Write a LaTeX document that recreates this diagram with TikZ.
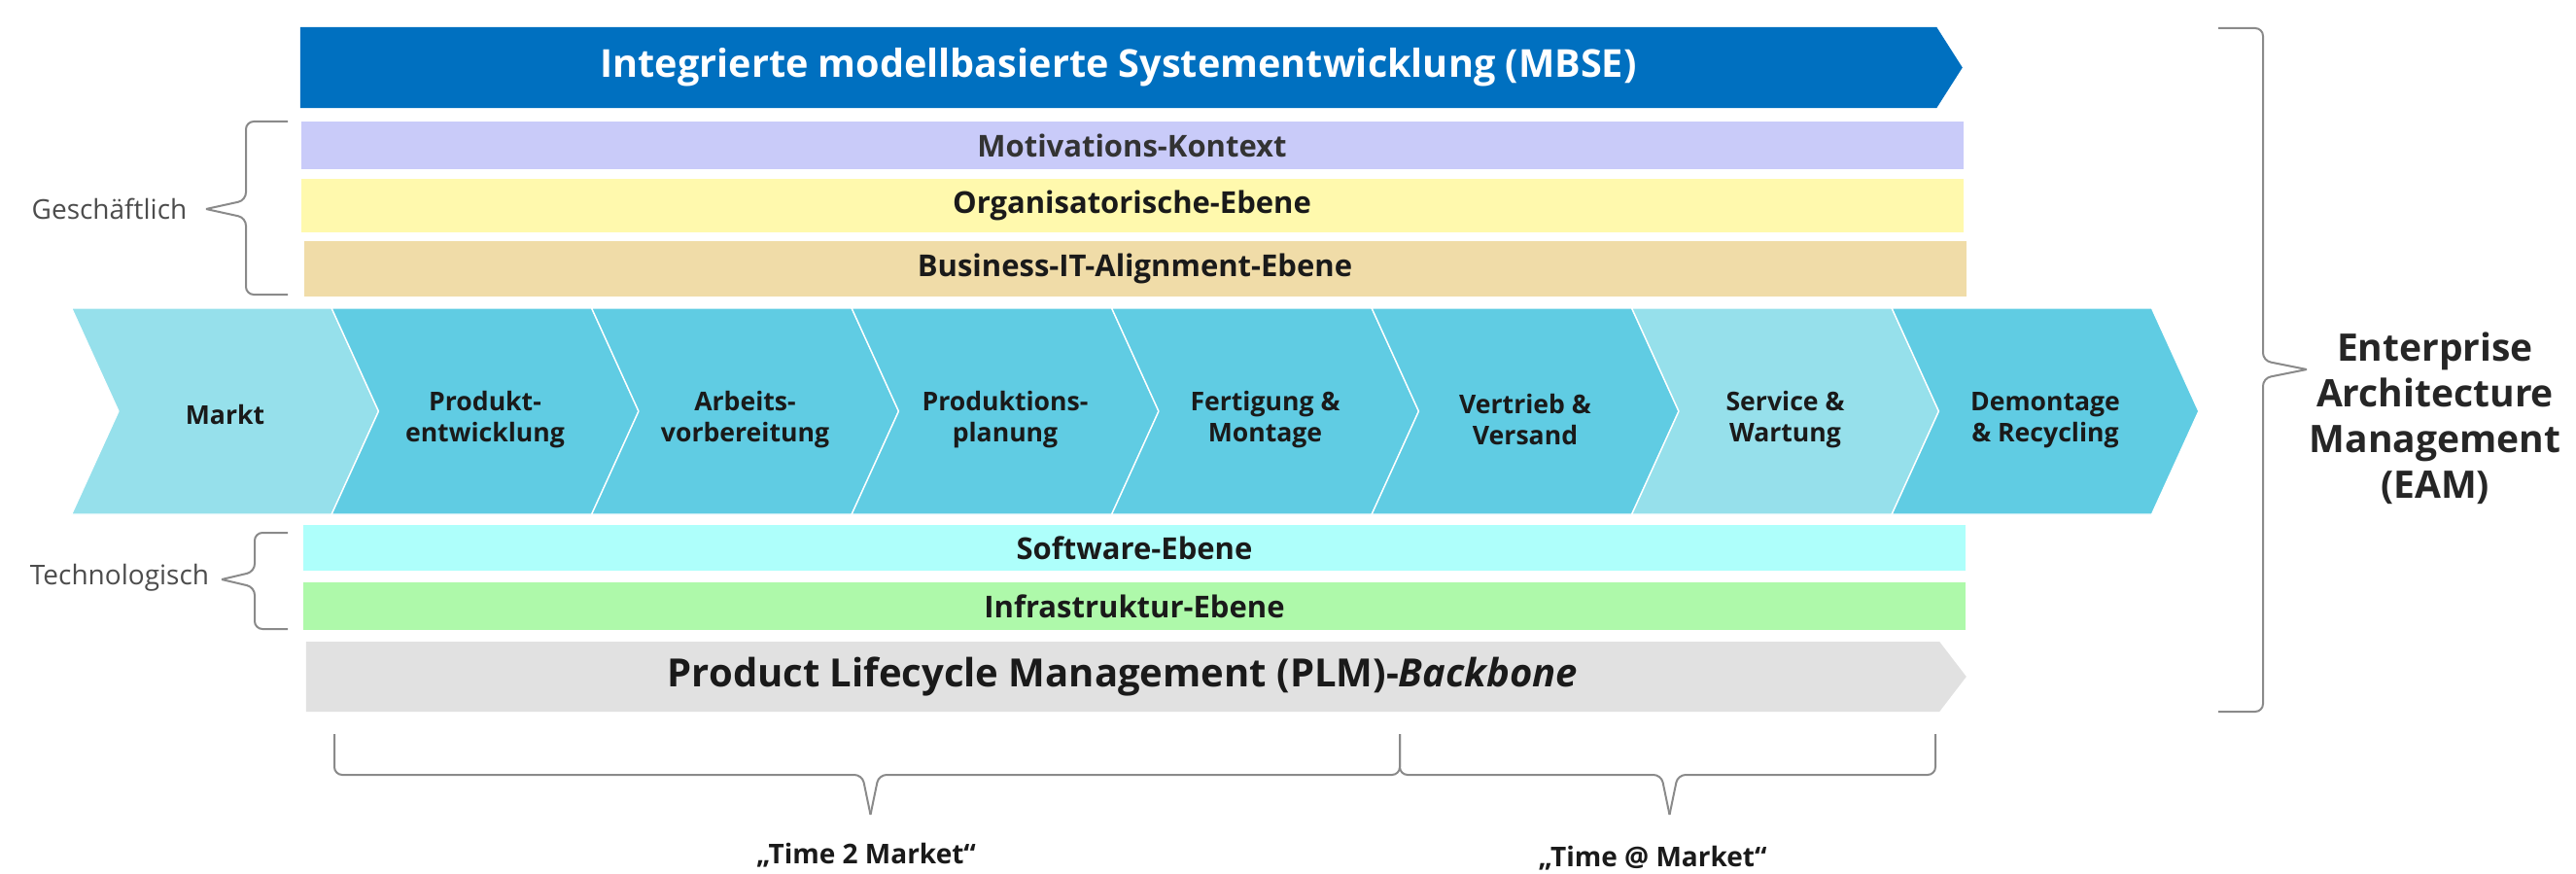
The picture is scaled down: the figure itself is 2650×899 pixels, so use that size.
\documentclass[tikz,border=0pt]{standalone}
\usepackage{fontspec}
\setmainfont{Open Sans}
\usepackage{tikz}
\usetikzlibrary{positioning, shapes.symbols}
\definecolor{mbseblue}{HTML}{0070C0}
\definecolor{motivcol}{HTML}{C9CBF9}
\definecolor{orgacol}{HTML}{FFF9AD}
\definecolor{bitcol}{HTML}{F0DCA8}
\definecolor{softcol}{HTML}{AEFFFB}
\definecolor{infracol}{HTML}{AEF9AA}
\definecolor{plmcol}{HTML}{E1E1E1}
\definecolor{phaselight}{HTML}{96E0EB}
\definecolor{phasedark}{HTML}{60CCE3}
\definecolor{textdark}{HTML}{1A1A1A}
\definecolor{bracegray}{HTML}{8A8A8A}
\tikzset{
	x=0.5pt, y=-0.5pt, % one unit is one pixel of the sketch, y runs downwards
	node distance=133.75pt, % distance between the centres of two phases
	every node/.style={inner sep=0pt, outer sep=0pt, text=textdark},
	layer/.style={rectangle, minimum width=855pt, font=\bfseries\fontsize{15.5}{18}\selectfont}, % the coloured levels
	banner/.style={signal, signal to=east, font=\bfseries\fontsize{19.8}{22}\selectfont}, % MBSE and PLM
	phase/.style={signal, signal from=west, signal to=east, signal pointer angle=131,
		minimum width=157.75pt, minimum height=106pt, fill=phasedark, draw=white,
		line width=0.6pt, align=center, font=\bfseries\fontsize{13.3}{16}\selectfont,
		execute at begin node={\rule{0pt}{#1}}}, % strut pushes the text a bit down
	phase/.default=34.5pt,
	bracket/.style={draw=bracegray, line width=1pt, rounded corners=4pt},
	side/.style={text=black!70, font=\fontsize{14}{16}\selectfont},
	span/.style={font=\bfseries\fontsize{14}{16}\selectfont},
}
\begin{document}
\begin{tikzpicture}
	\useasboundingbox (0,0) rectangle (2650,899);
	% top banner and business levels
	\node[banner, fill=mbseblue, text=white, signal pointer angle=115, minimum width=855pt, minimum height=41.7pt] (mbse) at (1150.5,69.5) {Integrierte modellbasierte Systementwicklung (MBSE)};
	\node[layer, fill=motivcol, text=black!80, minimum height=24.5pt] (motiv) at (1164.5,149.5) {Motivations-Kontext};
	\node[layer, fill=orgacol, minimum height=27.5pt] (orga) at (1164.5,211.5) {Organisatorische-Ebene};
	\node[layer, fill=bitcol, minimum height=28.5pt] (bit) at (1167.5,276.5) {Business-IT-Alignment-Ebene};
	% value chain
	\node[phase=14pt, fill=phaselight] (markt) at (231.5,423) {Markt};
	\node[phase, right of=markt] (entw) {Produkt-\\entwicklung};
	\node[phase, right of=entw] (arbv) {Arbeits-\\vorbereitung};
	\node[phase, right of=arbv] (prodpl) {Produktions-\\planung};
	\node[phase, right of=prodpl] (fert) {Fertigung \&\\Montage};
	\node[phase, right of=fert] (vertr) {Vertrieb \&\\Versand};
	\node[phase, fill=phaselight, right of=vertr] (serv) {Service \&\\Wartung};
	\node[phase, right of=serv] (demo) {Demontage\\\& Recycling};
	% technical levels
	\node[layer, fill=softcol, minimum height=23.5pt] (soft) at (1167,563.5) {Software-Ebene};
	\node[layer, fill=infracol, minimum height=24.5pt] (infra) at (1167,623.5) {Infrastruktur-Ebene};
	\node[banner, fill=plmcol, signal pointer angle=105, minimum width=854pt, minimum height=36pt, font=\bfseries\fontsize{20}{22}\selectfont] (plm) at (1155,696) {Product Lifecycle Management (PLM)-\textit{Backbone}};
	% labels
	\node[side] (gesch) at (112.5,215) {Geschäftlich};
	\node[side] (techno) at (123,594) {Technologisch};
	\node[align=center, text=black!85, font=\bfseries\fontsize{19.5}{23.5}\selectfont] (eam) at (2505,430) {Enterprise\\Architecture\\Management\\(EAM)};
	\node[span] (t2m) at (891,880) {„Time 2 Market“};
	\node[span] (tam) at (1700,883) {„Time @ Market“};
	% braces
	\draw[bracket] (296,125) -- (253,125) -- (253,206) -- (212,215);
	\draw[bracket] (212,215) -- (253,224) -- (253,303) -- (296,303);
	\draw[bracket] (296,548) -- (262,548) -- (262,588) -- (228,596);
	\draw[bracket] (228,596) -- (262,604) -- (262,647) -- (296,647);
	\draw[bracket] (2282,29) -- (2328,29) -- (2328,371) -- (2373,380);
	\draw[bracket] (2373,380) -- (2328,389) -- (2328,732) -- (2282,732);
	\draw[bracket] (344,755) -- (344,797) -- (887,797) -- (895.5,838);
	\draw[bracket] (895.5,838) -- (904,797) -- (1440,797) -- (1440,755);
	\draw[bracket] (1440,755) -- (1440,797) -- (1709,797) -- (1717.5,838);
	\draw[bracket] (1717.5,838) -- (1726,797) -- (1991,797) -- (1991,755);
\end{tikzpicture}
\end{document}
